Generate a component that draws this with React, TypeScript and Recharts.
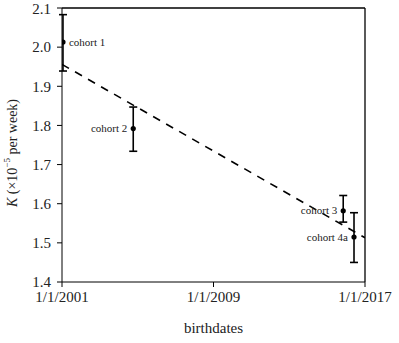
import { ComposedChart, Scatter, Line, XAxis, YAxis, ErrorBar, ReferenceLine, LabelList, Label } from "recharts";

const cohortNames = ["cohort 1", "cohort 2", "cohort 3", "cohort 4a"];
const cohortDates = ["2001-01-20", "2004-10-06", "2015-11-08", "2016-06-03"];
const kValues = [2.013, 1.792, 1.582, 1.515];
const kLow = [1.939, 1.734, 1.553, 1.45];
const kHigh = [2.083, 1.847, 1.621, 1.577];
const labelSides = ["right", "left", "left", "left"];

const fitDates = ["2001-01-01", "2017-01-01"];
const fitValues = [1.956, 1.513];

const xTickDates = ["2001-01-01", "2009-01-01", "2017-01-01"];
const yTicks = [1.4, 1.5, 1.6, 1.7, 1.8, 1.9, 2.0, 2.1];

const toTime = (d: string) => Date.parse(d + "T00:00:00Z");
const fmtDate = (t: number) => {
  const d = new Date(t);
  return `${d.getUTCMonth() + 1}/${d.getUTCDate()}/${d.getUTCFullYear()}`;
};

const cohorts = cohortNames.map((name, i) => ({
  name,
  t: toTime(cohortDates[i]),
  k: kValues[i],
  err: [kValues[i] - kLow[i], kHigh[i] - kValues[i]],
  side: labelSides[i],
}));
const fitLine = fitDates.map((d, i) => ({ t: toTime(d), k: fitValues[i] }));
const xTicks = xTickDates.map(toTime);

const font = "'Liberation Serif', 'DejaVu Serif', serif";

const CohortLabel = (props: any) => {
  const { x, y, width, height, index } = props;
  const cx = x + (width || 0) / 2;
  const cy = y + (height || 0) / 2;
  const right = cohorts[index].side === "right";
  return (
    <text x={right ? cx + 6 : cx - 6} y={cy} dy="0.32em" textAnchor={right ? "start" : "end"}
      fontFamily={font} fontSize={11} fill="#222">
      {cohorts[index].name}
    </text>
  );
};

const YLabel = (props: any) => {
  const vb = props.viewBox;
  const cy = vb.y + vb.height / 2 + 8;
  return (
    <text x={12} y={cy} transform={`rotate(-90, 12, ${cy})`} textAnchor="middle" dominantBaseline="central"
      fontFamily={font} fontSize={14} fill="#222">
      <tspan fontStyle="italic">K</tspan>
      <tspan> (×10</tspan>
      <tspan dy={-5} fontSize={9}>−5</tspan>
      <tspan dy={5}> per week)</tspan>
    </text>
  );
};

export default function App() {
  return (
    <div style={{ position: "absolute", left: 0, top: 0, background: "#fff" }}>
      <ComposedChart width={399} height={343} margin={{ top: 8, right: 34, bottom: 0, left: 0 }}>
        <XAxis dataKey="t" type="number" domain={[xTicks[0], xTicks[2]]} ticks={xTicks} tickFormatter={fmtDate}
          allowDataOverflow height={61} stroke="#000" tickSize={5} tickMargin={4}
          tick={{ fill: "#222", fontFamily: font, fontSize: 15 }}>
          <Label value="birthdates" position="insideBottom" offset={10} fill="#222" fontFamily={font} fontSize={15} />
        </XAxis>
        <YAxis dataKey="k" type="number" domain={[1.4, 2.1]} ticks={yTicks} tickFormatter={(v: number) => v.toFixed(1)}
          allowDataOverflow width={62} stroke="#000" tickSize={5} tickMargin={6}
          tick={{ fill: "#222", fontFamily: font, fontSize: 15 }}>
          <Label content={YLabel} />
        </YAxis>
        <ReferenceLine y={2.1} stroke="#000" strokeWidth={1.3} />
        <ReferenceLine x={xTicks[2]} stroke="#000" strokeWidth={1.3} />
        <Line data={fitLine} dataKey="k" type="linear" stroke="#000" strokeWidth={1.6} strokeDasharray="8 7"
          dot={false} isAnimationActive={false} />
        <Scatter data={cohorts} dataKey="k" isAnimationActive={false}
          shape={(p: any) => <circle cx={p.cx} cy={p.cy} r={2.6} fill="#000" />}>
          <ErrorBar dataKey="err" direction="y" width={4} stroke="#000" strokeWidth={1.6} />
          <LabelList dataKey="name" content={CohortLabel} />
        </Scatter>
      </ComposedChart>
    </div>
  );
}
